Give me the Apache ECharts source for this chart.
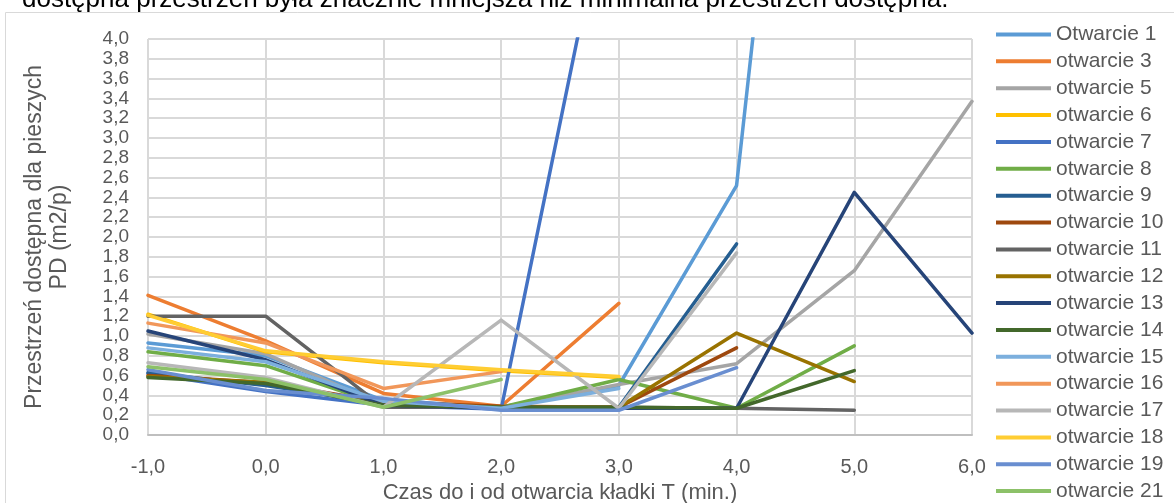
<!DOCTYPE html>
<html>
<head>
<meta charset="utf-8">
<script src="https://cdn.jsdelivr.net/npm/echarts@6/dist/echarts.min.js"></script>
<style>
html,body{margin:0;padding:0;background:#fff;}
#chart{width:1174px;height:503px;}
</style>
</head>
<body>
<div id="chart"></div>
<script>
// Time relative to opening (min.)
const categories = [-1, 0, 1, 2, 3, 4, 5, 6];
const seriesNames = ['Otwarcie 1','otwarcie 3','otwarcie 5','otwarcie 6','otwarcie 7','otwarcie 8','otwarcie 9','otwarcie 10','otwarcie 11','otwarcie 12','otwarcie 13','otwarcie 14','otwarcie 15','otwarcie 16','otwarcie 17','otwarcie 18','otwarcie 19','otwarcie 21'];
const otwarcie1  = [0.93, 0.80, 0.35, 0.28, 0.50, 2.52, 13.3, null];
const otwarcie3  = [1.41, 0.95, 0.42, 0.29, 1.33, null, null, null];
const otwarcie5  = [1.02, 0.82, 0.30, 0.28, 0.51, 0.72, 1.66, 3.37];
const otwarcie6  = [1.22, 0.84, 0.73, 0.65, 0.58, null, null, null];
const otwarcie7  = [0.62, 0.44, 0.30, 0.26, 6.04, null, null, null];
const otwarcie8  = [0.84, 0.70, 0.30, 0.28, 0.56, 0.27, 0.90, null];
const otwarcie9  = [0.63, 0.50, 0.32, 0.28, 0.28, 1.93, null, null];
const otwarcie10 = [0.60, 0.53, 0.33, 0.29, 0.28, 0.88, null, null];
const otwarcie11 = [1.20, 1.20, 0.28, 0.28, 0.28, 0.27, 0.25, null];
const otwarcie12 = [0.59, 0.53, 0.31, 0.28, 0.28, 1.03, 0.54, null];
const otwarcie13 = [1.05, 0.76, 0.30, 0.27, 0.27, 0.27, 2.45, 1.03];
const otwarcie14 = [0.58, 0.52, 0.30, 0.28, 0.28, 0.27, 0.65, null];
const otwarcie15 = [0.88, 0.74, 0.34, 0.27, 0.47, null, null, null];
const otwarcie16 = [1.13, 0.93, 0.47, 0.64, null, null, null, null];
const otwarcie17 = [0.73, 0.58, 0.28, 1.16, 0.27, 1.84, null, null];
const otwarcie18 = [1.21, 0.85, 0.74, 0.66, 0.59, null, null, null];
const otwarcie19 = [0.66, 0.45, 0.37, 0.25, 0.25, 0.68, null, null];
const otwarcie21 = [0.69, 0.56, 0.28, 0.56, null, null, null, null];
const seriesValues = [otwarcie1, otwarcie3, otwarcie5, otwarcie6, otwarcie7, otwarcie8, otwarcie9, otwarcie10, otwarcie11, otwarcie12, otwarcie13, otwarcie14, otwarcie15, otwarcie16, otwarcie17, otwarcie18, otwarcie19, otwarcie21];
const colors = ['#5B9BD5','#ED7D31','#A5A5A5','#FFC000','#4472C4','#70AD47','#255E91','#9E480E','#636363','#997300','#264478','#43682B','#7CAFDD','#F1975A','#B7B7B7','#FFCD33','#698ED0','#8CC168'];

const topText = 'dostępna przestrzeń była znacznie mniejsza niż minimalna przestrzeń dostępna.';
const xTitle = 'Czas do i od otwarcia kładki T (min.)';
const yTitle = 'Przestrzeń dostępna dla pieszych\nPD (m2/p)';

const FONT = '"Liberation Sans", Arial, sans-serif';
const fmt = v => v.toFixed(1).replace('.', ',');

const chart = echarts.init(document.getElementById('chart'), null, {renderer: 'canvas'});
const series = seriesNames.map((name, i) => ({
  name: name,
  type: 'line',
  symbol: 'none',
  clip: true,
  data: categories.map((c, j) => [c, seriesValues[i][j]]),
  lineStyle: {width: 3.5, color: colors[i], cap: 'round', join: 'round'},
  itemStyle: {color: colors[i]},
  emphasis: {disabled: true},
  animation: false
}));

chart.setOption({
  animation: false,
  textStyle: {fontFamily: FONT},
  grid: {left: 148, right: 202, top: 39, bottom: 68, containLabel: false},
  xAxis: {
    type: 'value', min: -1, max: 6, interval: 1,
    axisLine: {show: true, onZero: false, lineStyle: {color: '#BFBFBF', width: 2}},
    axisTick: {show: false},
    splitLine: {show: true, lineStyle: {color: '#D9D9D9', width: 2}},
    axisLabel: {formatter: fmt, color: '#595959', fontSize: 20, margin: 22, fontFamily: FONT}
  },
  yAxis: {
    type: 'value', min: 0, max: 4, interval: 0.2,
    axisLine: {show: true, lineStyle: {color: '#D9D9D9', width: 2}},
    axisTick: {show: false},
    splitLine: {show: true, lineStyle: {color: '#D9D9D9', width: 2}},
    axisLabel: {formatter: fmt, color: '#595959', fontSize: 19, margin: 19, fontFamily: FONT}
  },
  legend: {
    orient: 'vertical', left: 996, top: 24,
    itemWidth: 55, itemHeight: 4, itemGap: 5.86, padding: 0,
    icon: 'rect',
    textStyle: {fontSize: 21, color: '#595959', lineHeight: 21, fontFamily: FONT},
    data: seriesNames.map((n, i) => ({name: n, itemStyle: {color: colors[i]}}))
  },
  graphic: [
    {type: 'rect', shape: {x: 5.5, y: 12.5, width: 1300, height: 700}, style: {fill: 'none', stroke: '#D9D9D9', lineWidth: 1}, silent: true},
    {type: 'text', x: 22, y: 13, style: {text: topText, font: '26px ' + FONT, fill: '#000', textAlign: 'left', textVerticalAlign: 'bottom'}, silent: true},
    {type: 'text', x: 560, y: 493, style: {text: xTitle, font: '22px ' + FONT, fill: '#595959', textAlign: 'center', textVerticalAlign: 'middle'}, silent: true},
    {type: 'text', x: 47, y: 237, rotation: Math.PI / 2, style: {text: yTitle, font: '23px ' + FONT, fill: '#595959', textAlign: 'center', textVerticalAlign: 'middle', lineHeight: 25}, silent: true}
  ],
  series: series
});
</script>
</body>
</html>
